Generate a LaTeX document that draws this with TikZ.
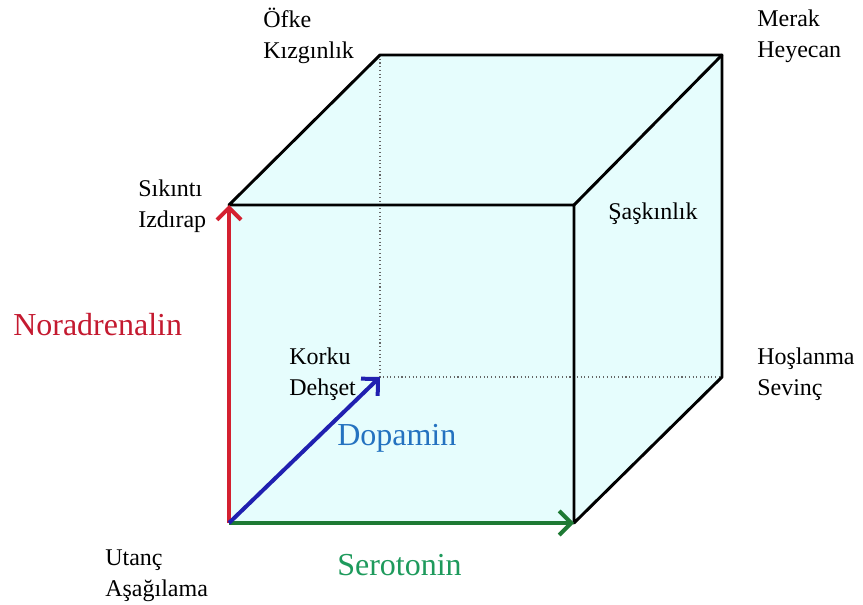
\documentclass[tikz,border=0pt]{standalone}
\usepackage{fontspec}
\setmainfont{Liberation Serif}
\usetikzlibrary{arrows.meta, positioning}
\definecolor{cubefill}{HTML}{E6FDFD}
\definecolor{nora}{HTML}{C41A30}
\definecolor{noraar}{HTML}{D42030}
\definecolor{dopa}{HTML}{2472C0}
\definecolor{dopaar}{HTML}{2020B0}
\definecolor{sero}{HTML}{1E9A5C}
\definecolor{seroar}{HTML}{1E7A34}

\begin{document}
\begin{tikzpicture}[x=0.75pt, y=-0.75pt,
          lbl/.style={anchor=west, align=left, inner sep=0pt, font=\fontsize{18}{23}\selectfont},
          big/.style={anchor=west, inner sep=0pt, font=\fontsize{24}{28}\selectfont},
          edge/.style={line width=2.2pt, line cap=round, line join=round},
          hid/.style={black!60, dotted, line width=0.8pt},
          ar/.style={line width=3pt, -{Straight Barb[length=9pt, width=18pt, line width=3pt]}}
        ]
        \useasboundingbox (0,0) rectangle (863,605);
        % front and back corners
        \coordinate (a) at (229,523);
        \coordinate (b) at (574,523);
        \coordinate (c) at (574,205);
        \coordinate (d) at (229,205);
        \coordinate (e) at (380,377);
        \coordinate (f) at (722,377);
        \coordinate (g) at (722,55);
        \coordinate (h) at (380,55);
        \fill[cubefill] (d) -- (h) -- (g) -- (f) -- (b) -- (a) -- cycle;
        \draw[hid] (h) -- (e) -- (f);
        \draw[edge] (d) -- (h) -- (g) -- (f) -- (b) -- (c) -- (d);
        \draw[edge] (c) -- (g);
        \draw[ar, noraar] (a) -- (d);
        \draw[ar, seroar] (a) -- (b);
        \draw[ar, dopaar] (a) -- (e);
        % corner labels
        \node[lbl] (ofke) at (263,36) {Öfke\\Kızgınlık};
        \node[lbl] (merak) at (757,36) {Merak\\Heyecan};
        \node[lbl] (sikinti) at (138,206) {Sıkıntı\\Izdırap};
        \node[lbl] (saskin) at (608,214) {Şaşkınlık};
        \node[lbl] (hos) at (757,374) {Hoşlanma\\Sevinç};
        \node[lbl] (korku) at (289,374) {Korku\\Dehşet};
        \node[lbl] (utanc) at (105,576) {Utanç\\Aşağılama};
        % axes
        \node[big, nora] (nor) at (13,325) {Noradrenalin};
        \node[big, dopa] (dop) at (337,438) {Dopamin};
        \node[big, sero] (ser) at (337,565) {Serotonin};
      \end{tikzpicture}
\end{document}
